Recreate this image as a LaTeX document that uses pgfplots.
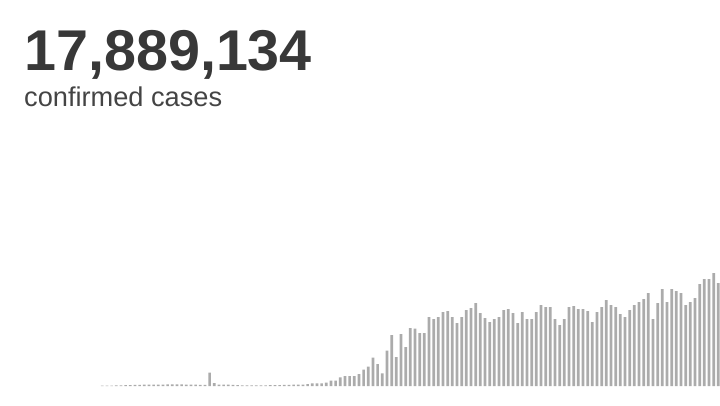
\documentclass[border=0pt]{standalone}
\usepackage{pgfplots}
\pgfplotsset{compat=1.18}
\usepackage{pgfplotstable}
\usepackage{fontspec}
\setmainfont{Liberation Sans}
\definecolor{bargray}{HTML}{ABABAB}
\definecolor{numgray}{HTML}{383838}
\definecolor{subgray}{HTML}{444444}

\pgfplotstableread{
day cases
0 440
1 550
2 550
3 660
4 770
5 880
6 1100
7 1320
8 1320
9 1430
10 1430
11 1540
12 1540
13 1650
14 1760
15 1870
16 1870
17 1760
18 1650
19 1540
20 1430
21 1320
22 1320
23 14850
24 3300
25 1650
26 1430
27 1430
28 1320
29 1100
30 770
31 660
32 660
33 660
34 660
35 770
36 880
37 990
38 1100
39 1210
40 1320
41 1430
42 1540
43 1650
44 2200
45 2970
46 2970
47 2970
48 3630
49 5830
50 5830
51 9570
52 11000
53 11000
54 11000
55 13200
56 18150
57 21230
58 31350
59 24200
60 13970
61 38830
62 56100
63 31900
64 57200
65 42900
66 63800
67 63250
68 58300
69 58300
70 75900
71 73700
72 75900
73 81400
74 82500
75 75900
76 69300
77 75900
78 83600
79 85800
80 91300
81 80300
82 74800
83 70400
84 73700
85 75900
86 83600
87 84700
88 80300
89 69300
90 81400
91 73700
92 73700
93 81400
94 89100
95 86900
96 86900
97 73700
98 67100
99 73700
100 86900
101 88000
102 84700
103 84700
104 82500
105 70400
106 81400
107 86900
108 94600
109 89100
110 86900
111 79200
112 75900
113 83600
114 89100
115 92400
116 95700
117 102300
118 73700
119 91300
120 106700
121 92400
122 106700
123 104500
124 102300
125 89100
126 92400
127 96800
128 112200
129 117700
130 117700
131 124300
132 113300
}\dailycases

\begin{document}
\begin{tikzpicture}[x=1pt,y=1pt]
\path[use as bounding box] (0,0) rectangle (720,405);
\node[anchor=base west, inner sep=0, text=numgray] at (24,334.5)
  {\fontsize{57.5}{60}\selectfont\bfseries 17,889,134};
\node[anchor=base west, inner sep=0, text=subgray] at (24,298.5)
  {\fontsize{27.2}{30}\selectfont confirmed cases};
\begin{axis}[
  at={(0pt,19pt)}, anchor=south west,
  scale only axis, width=720pt, height=126pt,
  xmin=-21.92, xmax=132.36,
  ymin=0, ymax=138600,
  hide axis,
]
\addplot[ybar, bar width=0.58, fill=bargray, draw=none] table[x=day, y=cases] {\dailycases};
\end{axis}
\end{tikzpicture}
\end{document}
